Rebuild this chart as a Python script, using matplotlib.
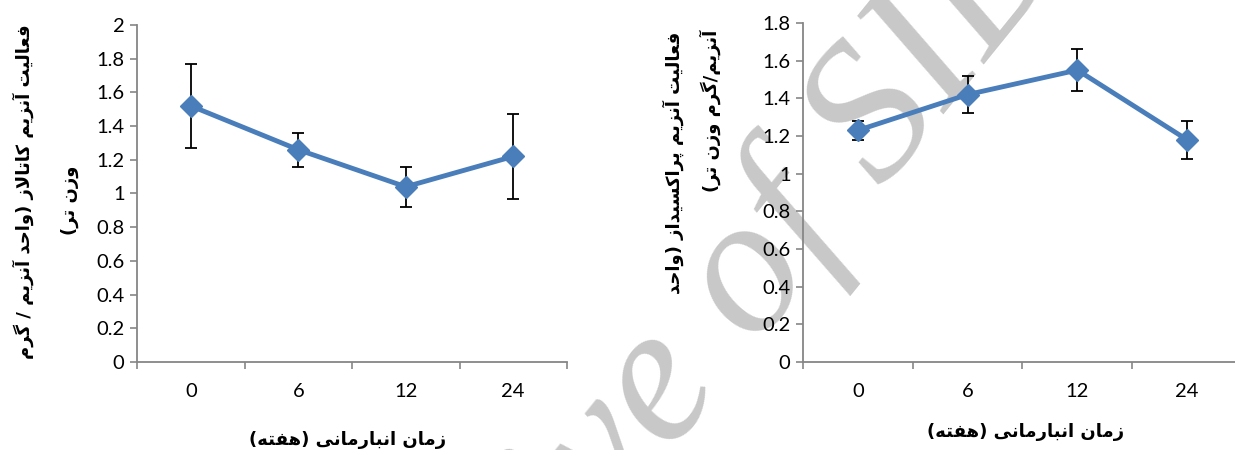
import matplotlib
matplotlib.use("Agg")
import matplotlib.pyplot as plt
import numpy as np

# ---------------- data ----------------
weeks = ["0", "6", "12", "24"]
catalase = [1.52, 1.26, 1.04, 1.22]
catalase_err = [0.25, 0.10, 0.12, 0.25]
peroxidase = [1.23, 1.42, 1.55, 1.18]
peroxidase_err = [0.05, 0.10, 0.11, 0.10]

xlabel_txt = "زمان انبارمانی (هفته)"
cat_ylabel = ["فعالیت آنزیم کاتالاز (واحد آنزیم / گرم", "وزن تر)"]
per_ylabel = ["فعالیت آنزیم پراکسیداز (واحد", "آنزیم/گرم وزن تر)"]
watermark = "Archive of SID"

# ------------- simple Persian shaping -------------
FORMS = {
    'ا': (0xFE8D, 0xFE8E), 'آ': (0xFE81, 0xFE82),
    'د': (0xFEA9, 0xFEAA), 'ر': (0xFEAD, 0xFEAE), 'ز': (0xFEAF, 0xFEB0),
    'و': (0xFEED, 0xFEEE),
    'ب': (0xFE8F, 0xFE90, 0xFE91, 0xFE92), 'ت': (0xFE95, 0xFE96, 0xFE97, 0xFE98),
    'ح': (0xFEA1, 0xFEA2, 0xFEA3, 0xFEA4), 'س': (0xFEB1, 0xFEB2, 0xFEB3, 0xFEB4),
    'ع': (0xFEC9, 0xFECA, 0xFECB, 0xFECC), 'ف': (0xFED1, 0xFED2, 0xFED3, 0xFED4),
    'ل': (0xFEDD, 0xFEDE, 0xFEDF, 0xFEE0), 'م': (0xFEE1, 0xFEE2, 0xFEE3, 0xFEE4),
    'ن': (0xFEE5, 0xFEE6, 0xFEE7, 0xFEE8), 'ه': (0xFEE9, 0xFEEA, 0xFEEB, 0xFEEC),
    'ی': (0xFBFC, 0xFBFD, 0xFBFE, 0xFBFF), 'ک': (0xFB8E, 0xFB8F, 0xFB90, 0xFB91),
    'گ': (0xFB92, 0xFB93, 0xFB94, 0xFB95), 'پ': (0xFB56, 0xFB57, 0xFB58, 0xFB59),
}
LAMALEF = {'ا': (0xFEFB, 0xFEFC), 'آ': (0xFEF5, 0xFEF6)}
MIRROR = {'(': ')', ')': '('}


def dual(c):
    return c in FORMS and len(FORMS[c]) == 4


def shape(s):
    out = []
    i = 0
    n = len(s)
    while i < n:
        c = s[i]
        prev = s[i - 1] if i > 0 else ''
        jp = dual(prev)
        if c == 'ل' and i + 1 < n and s[i + 1] in LAMALEF:
            f = LAMALEF[s[i + 1]]
            out.append(chr(f[1] if jp else f[0]))
            i += 2
            continue
        if c in FORMS:
            f = FORMS[c]
            nxt = s[i + 1] if i + 1 < n else ''
            jn = dual(c) and nxt in FORMS
            if jp and jn:
                g = f[3]
            elif jp:
                g = f[1]
            elif jn:
                g = f[2]
            else:
                g = f[0]
            out.append(chr(g))
        else:
            out.append(c)
        i += 1
    vis = [MIRROR.get(ch, ch) for ch in reversed(out)]
    return ''.join(vis)


# ---------------- figure ----------------
W, H = 1235, 450
fig = plt.figure(figsize=(W / 100, H / 100), dpi=100)
fig.patch.set_facecolor("white")

# watermark (behind everything)
fig.text(676 / W, 1 - 382 / H, watermark, family="Liberation Serif", style="italic",
         fontsize=142, color="#C8C8C8", rotation=51, rotation_mode="anchor",
         ha="center", va="center", zorder=-5)

LINE = "#4A7EBB"
AX = "#868686"
TICKFONT = "Lato"
TSIZE = 14.5


def px_axes(x0, x1, ytop, ybot):
    return [x0 / W, 1 - ybot / H, (x1 - x0) / W, (ybot - ytop) / H]


def setup(ax, vals, errs, ymax):
    x = np.arange(len(weeks))
    ax.set_facecolor("none")
    ax.errorbar(x, vals, yerr=errs, fmt="none", ecolor="black", elinewidth=1.3,
                capsize=4.5, capthick=1.3, zorder=2)
    ax.plot(x, vals, color=LINE, lw=3.5, marker="D", ms=11, mfc=LINE, mec=LINE,
            zorder=3, solid_capstyle="round")
    ax.set_xlim(-0.5, len(weeks) - 0.5)
    ax.set_ylim(0, ymax)
    yt = np.round(np.arange(0, ymax + 0.001, 0.2), 1)
    ax.set_yticks(yt)
    ax.set_yticklabels([("%g" % v) for v in yt], family=TICKFONT, fontsize=TSIZE)
    ax.set_xticks(x)
    ax.set_xticklabels(weeks, family=TICKFONT, fontsize=TSIZE)
    ax.set_xticks(np.arange(-0.5, len(weeks), 1.0), minor=True)
    ax.tick_params(axis="x", which="major", length=0, pad=15)
    ax.tick_params(axis="x", which="minor", length=5, width=1.2, color=AX)
    ax.tick_params(axis="y", length=5, width=1.2, color=AX, pad=4)
    for s in ("top", "right"):
        ax.spines[s].set_visible(False)
    for s in ("left", "bottom"):
        ax.spines[s].set_color(AX)
        ax.spines[s].set_linewidth(1.3)
    for lab in ax.get_xticklabels() + ax.get_yticklabels():
        lab.set_color("black")


ax1 = fig.add_axes(px_axes(137, 567, 25, 362))
setup(ax1, catalase, catalase_err, 2.0)
ax2 = fig.add_axes(px_axes(803, 1242, 23, 362))
setup(ax2, peroxidase, peroxidase_err, 1.8)

PFONT = ["DejaVu Sans"]
PSIZE = 13

# x labels
fig.text(348 / W, 1 - 440 / H, shape(xlabel_txt), family=PFONT, weight="bold",
         fontsize=PSIZE, ha="center", va="center")
fig.text(1026 / W, 1 - 432 / H, shape(xlabel_txt), family=PFONT, weight="bold",
         fontsize=PSIZE, ha="center", va="center")

# left y label (centred lines)
fig.text(23 / W, 1 - 192 / H, shape(cat_ylabel[0]), family=PFONT, weight="bold",
         fontsize=PSIZE, rotation=90, ha="center", va="center")
fig.text(70 / W, 1 - 200 / H, shape(cat_ylabel[1]), family=PFONT, weight="bold",
         fontsize=PSIZE, rotation=90, ha="center", va="center")

# right y label (top aligned lines)
fig.text(673 / W, 1 - 32 / H, shape(per_ylabel[0]), family=PFONT, weight="bold",
         fontsize=PSIZE, rotation=90, ha="center", va="top")
fig.text(710 / W, 1 - 30 / H, shape(per_ylabel[1]), family=PFONT, weight="bold",
         fontsize=PSIZE, rotation=90, ha="center", va="top")

fig.savefig("out.png", dpi=100, facecolor="white")
